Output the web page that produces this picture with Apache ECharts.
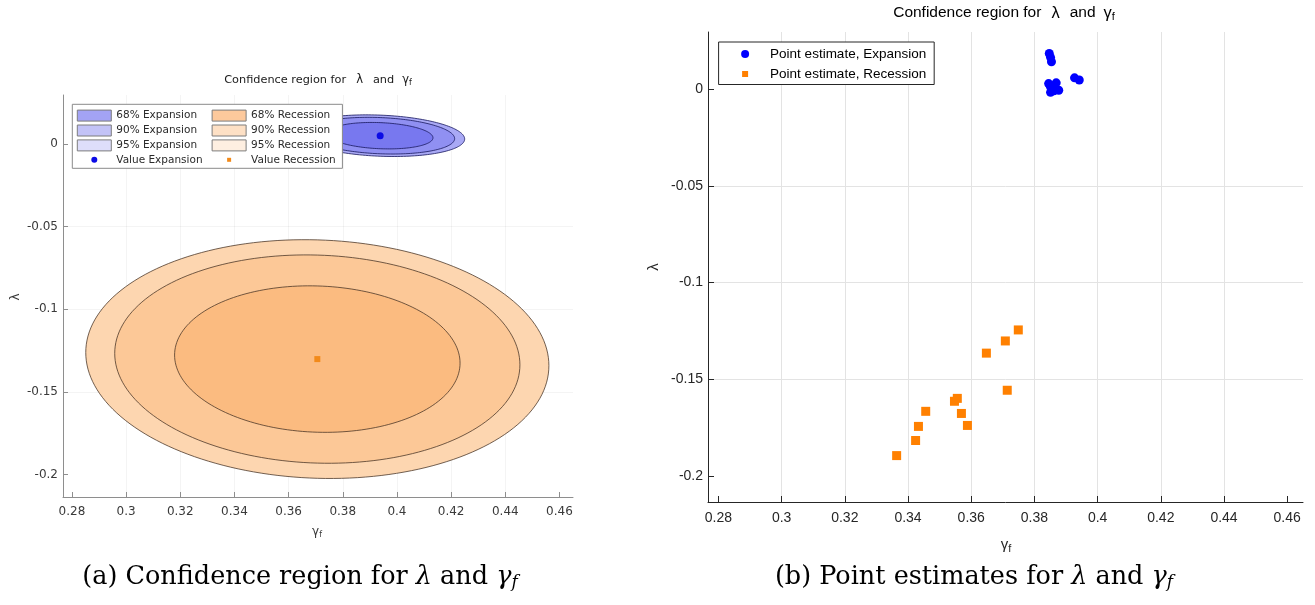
<!DOCTYPE html>
<html><head><meta charset="utf-8">
<script src="https://cdn.jsdelivr.net/npm/echarts@6/dist/echarts.min.js"></script>
<style>html,body{margin:0;padding:0;background:#fff}#c{width:1315px;height:605px}</style>
</head><body><div id="c"></div>
<script>
// ---- data ----
const xTicks = [0.28, 0.30, 0.32, 0.34, 0.36, 0.38, 0.40, 0.42, 0.44, 0.46];
const yTicks = [-0.2, -0.15, -0.1, -0.05, 0];
const xRange = [0.2767, 0.465];
const yRange = [-0.2135, 0.0296];
const levels = ['68%', '90%', '95%'];
// confidence ellipses: centre, half-extent in x and y per level, correlation
const expCenter = [0.3938, 0.0050];
const expHalfX = [0.0195, 0.0275, 0.0312];
const expHalfY = [0.0080, 0.0111, 0.0126];
const expRho = -0.16;
const recCenter = [0.3706, -0.1301];
const recHalfX = [0.0527, 0.0748, 0.0855];
const recHalfY = [0.0443, 0.0630, 0.0722];
const recRho = -0.055;
// point estimates
const expPointX = [0.3847, 0.3851, 0.3854, 0.3845, 0.3869, 0.3877, 0.3851, 0.3858, 0.3850, 0.3862, 0.3927, 0.3942];
const expPointY = [0.0185, 0.0165, 0.0142, 0.0029, 0.0033, -0.0005, -0.0016, 0.0010, 0.0015, -0.0008, 0.0059, 0.0048];
const recPointX = [0.3749, 0.3708, 0.3648, 0.3714, 0.3556, 0.3547, 0.3456, 0.3569, 0.3588, 0.3433, 0.3424, 0.3364];
const recPointY = [-0.1245, -0.1302, -0.1365, -0.1557, -0.1599, -0.1614, -0.1666, -0.1677, -0.1739, -0.1744, -0.1817, -0.1895];

// ---- styles ----
const expFill = ['#7878ef', '#9090f2', '#a9a9f5'];
const recFill = ['#fbbb80', '#fcc897', '#fdd6b0'];
const expLegend = ['#a3a3f4', '#c3c3f7', '#dedefa'];
const recLegend = ['#fdc99c', '#fde0c5', '#feefe1'];
const expEdge = 'rgba(25,25,95,0.9)';
const recEdge = 'rgba(70,50,35,0.85)';

function ellipseRender(fill, stroke) {
  return function (params, api) {
    const cx = api.value(0), cy = api.value(1), hx = api.value(2), hy = api.value(3), rho = api.value(4);
    const s = Math.sqrt(1 - rho * rho);
    const pts = [];
    const n = 180;
    for (let i = 0; i < n; i++) {
      const t = 2 * Math.PI * i / n;
      pts.push(api.coord([cx + hx * Math.cos(t), cy + hy * (rho * Math.cos(t) + s * Math.sin(t))]));
    }
    return { type: 'polygon', shape: { points: pts }, style: { fill: fill, stroke: stroke, lineWidth: 0.9 } };
  };
}

const L = { axis: '#8e8e8e', text: '#3a3a3a', grid: 'rgba(0,0,0,0.045)', font: 'DejaVu Sans', tick: 12, tickLen: 5, xm: 9, ym: 5 };
const R = { axis: '#262626', text: '#262626', grid: '#e3e3e3', font: 'Liberation Sans', tick: 14, tickLen: 6, xm: 9, ym: 5 };

function xAxisCfg(g, st) {
  return {
    type: 'value', gridIndex: g, min: xRange[0], max: xRange[1], splitNumber: 9, minInterval: 0.02, maxInterval: 0.02,
    axisLine: { onZero: false, lineStyle: { color: st.axis, width: 1 } },
    axisTick: { inside: true, length: st.tickLen, lineStyle: { color: st.axis }, customValues: xTicks },
    axisLabel: { customValues: xTicks, margin: st.xm, color: st.text, fontFamily: st.font, fontSize: st.tick },
    splitLine: { show: true, showMinLine: false, showMaxLine: false, lineStyle: { color: st.grid, width: 1 } }
  };
}
function yAxisCfg(g, st) {
  return {
    type: 'value', gridIndex: g, min: yRange[0], max: yRange[1], splitNumber: 5, minInterval: 0.05, maxInterval: 0.05,
    axisLine: { onZero: false, lineStyle: { color: st.axis, width: 1 } },
    axisTick: { inside: true, length: st.tickLen, lineStyle: { color: st.axis }, customValues: yTicks },
    axisLabel: { customValues: yTicks, margin: st.ym, color: st.text, fontFamily: st.font, fontSize: st.tick },
    splitLine: { show: true, showMinLine: false, showMaxLine: false, lineStyle: { color: st.grid, width: 1 } }
  };
}

const series = [];
[2, 1, 0].forEach(function (i) {
  series.push({
    type: 'custom', name: levels[i] + ' Expansion', xAxisIndex: 0, yAxisIndex: 0, silent: true, z: 2,
    renderItem: ellipseRender(expFill[i], expEdge), itemStyle: { color: expLegend[i] },
    encode: { x: 0, y: 1 },
    data: [[expCenter[0], expCenter[1], expHalfX[i], expHalfY[i], expRho]]
  });
  series.push({
    type: 'custom', name: levels[i] + ' Recession', xAxisIndex: 0, yAxisIndex: 0, silent: true, z: 2,
    renderItem: ellipseRender(recFill[i], recEdge), itemStyle: { color: recLegend[i] },
    encode: { x: 0, y: 1 },
    data: [[recCenter[0], recCenter[1], recHalfX[i], recHalfY[i], recRho]]
  });
});
series.push({ type: 'scatter', name: 'Value Expansion', xAxisIndex: 0, yAxisIndex: 0, z: 3, symbol: 'circle', symbolSize: 7, itemStyle: { color: '#0b0be6', opacity: 1 }, data: [expCenter] });
series.push({ type: 'scatter', name: 'Value Recession', xAxisIndex: 0, yAxisIndex: 0, z: 3, symbol: 'rect', symbolSize: 6, itemStyle: { color: '#f28a1a', opacity: 1 }, data: [recCenter] });
series.push({ type: 'scatter', name: 'Point estimate, Expansion', xAxisIndex: 1, yAxisIndex: 1, z: 3, symbol: 'circle', symbolSize: 9, itemStyle: { color: '#0000ff', opacity: 1 }, data: expPointX.map(function (x, i) { return [x, expPointY[i]]; }) });
series.push({ type: 'scatter', name: 'Point estimate, Recession', xAxisIndex: 1, yAxisIndex: 1, z: 3, symbol: 'rect', symbolSize: 9, itemStyle: { color: '#ff8000', opacity: 1 }, data: recPointX.map(function (x, i) { return [x, recPointY[i]]; }) });

const dotL = 'path://M0,0L0,0M34,11L34,11M20,5.5A3,3,0,1,1,14,5.5A3,3,0,1,1,20,5.5Z';
const sqL = 'path://M0,0L0,0M34,11L34,11M15,3.5H19V7.5H15Z';
const dotR = 'path://M0,0L0,0M40,10L40,10M24,5A4,4,0,1,1,16,5A4,4,0,1,1,24,5Z';
const sqR = 'path://M0,0L0,0M40,10L40,10M17,2H23V8H17Z';

const legLeftData = [];
[0, 1, 2].forEach(function (i) { legLeftData.push({ name: levels[i] + ' Expansion', icon: 'rect', itemStyle: { color: expLegend[i], borderColor: '#7d7d7d', borderWidth: 1 } }); });
legLeftData.push({ name: 'Value Expansion', icon: dotL, itemStyle: { color: '#0b0be6', borderWidth: 0 } });
[0, 1, 2].forEach(function (i) { legLeftData.push({ name: levels[i] + ' Recession', icon: 'rect', itemStyle: { color: recLegend[i], borderColor: '#7d7d7d', borderWidth: 1 } }); });
legLeftData.push({ name: 'Value Recession', icon: sqL, itemStyle: { color: '#f28a1a', borderWidth: 0 } });

const sub = function (size, pad, fam) { return { fontSize: size, fontFamily: fam, padding: [pad, 0, 0, 0] }; };
const capRich = {
  m: { fontFamily: 'DejaVu Serif', fontSize: 25.5, fontStyle: 'italic' },
  ms: { fontFamily: 'DejaVu Serif', fontSize: 17, fontStyle: 'italic', padding: [12, 0, 0, 0] }
};

const option = {
  animation: false,
  backgroundColor: '#ffffff',
  grid: [
    { left: 63, top: 95, width: 510, height: 402, outerBoundsMode: 'none', containLabel: false },
    { left: 708, top: 32, width: 595, height: 470, outerBoundsMode: 'none', containLabel: false }
  ],
  xAxis: [xAxisCfg(0, L), xAxisCfg(1, R)],
  yAxis: [yAxisCfg(0, L), yAxisCfg(1, R)],
  legend: [
    {
      orient: 'vertical', left: 72.3, top: 104.3, height: 64, padding: [5.3, 0, 3.0, 4.5],
      itemWidth: 34, itemHeight: 11, itemGap: 2.9, selectedMode: false, z: 10,
      backgroundColor: '#ffffff', borderColor: '#8a8a8a', borderWidth: 1,
      formatter: function (name) { return name + '\u00a0\u00a0'; },
      textStyle: { fontFamily: 'DejaVu Sans', fontSize: 10.5, color: '#2a2a2a' },
      data: legLeftData
    },
    {
      orient: 'vertical', left: 718.6, top: 42, padding: [5, 8, 3.5, 6.5],
      itemWidth: 40, itemHeight: 10, itemGap: 6, selectedMode: false, z: 10,
      backgroundColor: '#ffffff', borderColor: '#262626', borderWidth: 1,
      textStyle: { fontFamily: 'Liberation Sans', fontSize: 13.5, color: '#000000' },
      data: [
        { name: 'Point estimate, Expansion', icon: dotR, itemStyle: { color: '#0000ff', borderWidth: 0 } },
        { name: 'Point estimate, Recession', icon: sqR, itemStyle: { color: '#ff8000', borderWidth: 0 } }
      ]
    }
  ],
  graphic: [
    { type: 'text', x: 318, y: 80.5, z: 20, style: { text: 'Confidence region for{l|λ}and{g|γ}{s|f}', align: 'center', verticalAlign: 'middle', fontFamily: 'DejaVu Sans', fontSize: 11.3, fill: '#1a1a1a', rich: { l: { fontFamily: 'DejaVu Sans', fontSize: 11.5, padding: [0, 10, 0, 10] }, g: { fontFamily: 'DejaVu Sans', fontSize: 11.5, padding: [0, 0, 0, 8] }, s: sub(8, 5, 'DejaVu Sans') } } },
    { type: 'text', x: 1004, y: 13, z: 20, style: { text: 'Confidence region for{l|λ}and{g|γ}{s|f}', align: 'center', verticalAlign: 'middle', fontFamily: 'Liberation Sans', fontSize: 15.5, fill: '#000000', rich: { l: { fontFamily: 'Liberation Sans', fontSize: 16.5, padding: [0, 10, 0, 10] }, g: { fontFamily: 'Liberation Sans', fontSize: 16.5, padding: [0, 0, 0, 8] }, s: sub(11, 7, 'Liberation Sans') } } },
    { type: 'text', x: 317, y: 532, z: 20, style: { text: 'γ{s|f}', align: 'center', verticalAlign: 'middle', fontFamily: 'DejaVu Sans', fontSize: 12, fill: '#3a3a3a', rich: { s: sub(8, 5, 'DejaVu Sans') } } },
    { type: 'text', x: 16, y: 297, z: 20, rotation: Math.PI / 2, style: { text: 'λ', align: 'center', verticalAlign: 'middle', fontFamily: 'DejaVu Sans', fontSize: 12, fill: '#3a3a3a' } },
    { type: 'text', x: 1006, y: 545, z: 20, style: { text: 'γ{s|f}', align: 'center', verticalAlign: 'middle', fontFamily: 'Liberation Sans', fontSize: 15, fill: '#262626', rich: { s: sub(11, 7, 'Liberation Sans') } } },
    { type: 'text', x: 654, y: 267, z: 20, rotation: Math.PI / 2, style: { text: 'λ', align: 'center', verticalAlign: 'middle', fontFamily: 'Liberation Sans', fontSize: 15, fill: '#262626' } },
    { type: 'text', x: 300, y: 577, z: 20, style: { text: '(a) Confidence region for {m|λ} and {m|γ}{ms|f}', align: 'center', verticalAlign: 'middle', fontFamily: 'DejaVu Serif', fontSize: 25.5, fill: '#000000', rich: capRich } },
    { type: 'text', x: 974, y: 577, z: 20, style: { text: '(b) Point estimates for {m|λ} and {m|γ}{ms|f}', align: 'center', verticalAlign: 'middle', fontFamily: 'DejaVu Serif', fontSize: 25.5, fill: '#000000', rich: capRich } }
  ],
  series: series
};

const chart = echarts.init(document.getElementById('c'), null, { renderer: 'canvas' });
chart.setOption(option);
</script>
</body></html>
